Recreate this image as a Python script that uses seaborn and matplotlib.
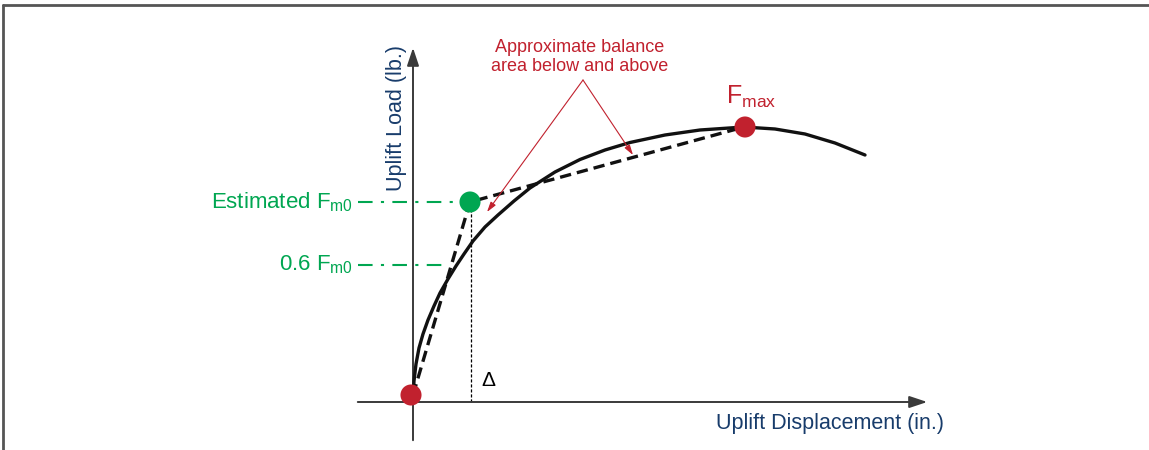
import matplotlib
matplotlib.use("Agg")
import matplotlib.pyplot as plt
import seaborn as sns
from matplotlib.lines import Line2D

# ---- data (schematic units: displacement, load) ----
curve_disp = [0.00, 0.01, 0.03, 0.06, 0.10, 0.15, 0.21, 0.27, 0.35, 0.43, 0.51, 0.60, 0.72,
              0.85, 1.01, 1.17, 1.42, 1.67, 1.92, 2.17, 2.52, 2.87, 3.31, 3.62, 3.92, 4.22, 4.52]
curve_load = [0.04, 0.21, 0.38, 0.54, 0.68, 0.82, 0.96, 1.09, 1.23, 1.36, 1.48, 1.61, 1.75,
              1.87, 2.01, 2.14, 2.30, 2.425, 2.52, 2.595, 2.67, 2.72, 2.75, 2.73, 2.68, 2.59, 2.47]

origin = (0.0, 0.07)
fm0_point = (0.57, 2.00)
fmax_point = (3.31, 2.75)
level_06 = 1.37

bilinear_disp = [origin[0], fm0_point[0], fmax_point[0]]
bilinear_load = [origin[1], fm0_point[1], fmax_point[1]]

label_fm0 = "Estimated F$_{\\mathrm{m0}}$"
label_06 = "0.6 F$_{\\mathrm{m0}}$"
label_fmax = "F$_{\\mathrm{max}}$"
label_y = "Uplift Load (lb.)"
label_x = "Uplift Displacement (in.)"
label_note = "Approximate balance\narea below and above"

RED = "#c1212e"
GREEN = "#00a651"
NAVY = "#183c6b"
AXIS = "#3a3a3a"

sns.set_theme(style="white")
plt.rcParams['font.family'] = ['Liberation Sans', 'DejaVu Sans']
plt.rcParams['mathtext.fontset'] = 'custom'
plt.rcParams['mathtext.rm'] = 'Liberation Sans'
plt.rcParams['mathtext.it'] = 'Liberation Sans'

fig = plt.figure(figsize=(11.49, 4.5), dpi=100)
ax = fig.add_axes([0, 0, 1, 1])
ax.set_xlim(-4.13, 7.36)
ax.set_ylim(-0.48, 4.02)
ax.axis("off")

# frame (top and left)
fig.add_artist(Line2D([0.003, 1.0], [0.988, 0.988], transform=fig.transFigure, color="#555555", lw=2.0))
fig.add_artist(Line2D([0.003, 0.003], [0.0, 0.988], transform=fig.transFigure, color="#555555", lw=2.0))

# axes with arrows
ax.annotate("", xy=(5.17, 0.0), xytext=(-0.58, 0.0),
            arrowprops=dict(arrowstyle="-|>,head_length=0.9,head_width=0.3", color=AXIS, lw=1.4))
ax.annotate("", xy=(0.0, 3.57), xytext=(0.0, -0.41),
            arrowprops=dict(arrowstyle="-|>,head_length=0.9,head_width=0.3", color=AXIS, lw=1.4))

# green dash-dot guides
ax.plot([-0.55, fm0_point[0] - 0.08], [fm0_point[1]] * 2, color=GREEN, lw=1.5,
        dashes=(7, 4, 1.5, 4), zorder=2)
ax.plot([-0.55, 0.33], [level_06] * 2, color=GREEN, lw=1.5,
        dashes=(7, 4, 1.5, 4), zorder=2)

# thin vertical dashed line
ax.plot([fm0_point[0] + 0.01] * 2, [0.0, 1.92], color="black", lw=0.9, dashes=(2.5, 1.5), zorder=2)

# curve and bilinear
sns.lineplot(x=curve_disp, y=curve_load, sort=False, estimator=None, ax=ax,
             color="#111111", lw=2.4, zorder=3)
ax.lines[-1].set_solid_joinstyle("round")
sns.lineplot(x=bilinear_disp, y=bilinear_load, sort=False, estimator=None, ax=ax,
             color="#111111", lw=2.4, zorder=3)
ax.lines[-1].set_dashes((3.4, 1.8))

# points
sns.scatterplot(x=[origin[0] - 0.02, fmax_point[0] + 0.01], y=[0.07, fmax_point[1]], ax=ax,
                color=RED, s=230, edgecolor="none", zorder=5)
sns.scatterplot(x=[fm0_point[0]], y=[fm0_point[1]], ax=ax,
                color=GREEN, s=230, edgecolor="none", zorder=5)

# labels
ax.text(-0.60, fm0_point[1], label_fm0, color=GREEN, fontsize=16, ha="right", va="center")
ax.text(-0.60, level_06, label_06, color=GREEN, fontsize=16, ha="right", va="center")
ax.text(-0.16, 2.84, label_y, color=NAVY, fontsize=15.5, rotation=90, ha="center", va="center")
ax.text(3.03, -0.22, label_x, color=NAVY, fontsize=15.5, ha="left", va="center")
ax.text(0.68, 0.21, "Δ", color="black", fontsize=15, ha="left", va="center")
ax.text(3.13, 3.05, label_fmax, color=RED, fontsize=18, ha="left", va="center")
ax.text(1.67, 3.45, label_note, color=RED, fontsize=13, ha="center", va="center", linespacing=1.15)

for tgt in [(0.74, 1.90), (2.20, 2.47)]:
    ax.annotate("", xy=tgt, xytext=(1.70, 3.22),
                arrowprops=dict(arrowstyle="-|>,head_length=0.5,head_width=0.15", color=RED, lw=0.8,
                                shrinkA=0, shrinkB=0))

fig.savefig("out.png", dpi=100)
